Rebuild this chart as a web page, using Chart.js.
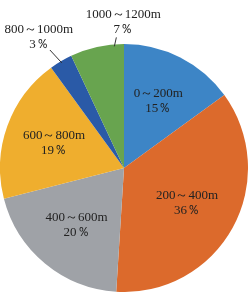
<!DOCTYPE html>
<html>
<head>
<meta charset="utf-8">
<script src="https://cdn.jsdelivr.net/npm/chart.js@4/dist/chart.umd.min.js"></script>
<style>
  html, body { margin: 0; padding: 0; background: #fff; }
  #wrap { width: 248px; height: 292px; }
</style>
</head>
<body>
<div id="wrap"><canvas id="grafica" width="248" height="292"></canvas></div>
<script>
// datos
const categorias = ["0～200m", "200～400m", "400～600m", "600～800m", "800～1000m", "1000～1200m"];
const porcentajes = [15, 36, 20, 19, 3, 7];
const colores = ["#3d85c6", "#dc6a2c", "#9fa2a7", "#efae2e", "#2a5aa7", "#68a44f"];

// donde va cada etiqueta: dentro (r = fraccion del radio) o fuera con linea
const posEtiquetas = [
  { r: 0.61 },
  { r: 0.58 },
  { r: 0.60 },
  { r: 0.60 },
  { t: 0.5, dx: -12, dy: -13, tx: -11, ty: -5 },
  { t: 0.82, dx: 2, dy: -9, tx: 7, ty: -8 }
];

const FUENTE = '13px "Liberation Serif", "DejaVu Serif", serif';
const ALTO_LINEA = 15;

// ✏️ ETIQUETAS
const etiquetas = {
  id: 'etiquetas',
  afterDatasetsDraw(chart) {
    const ctx = chart.ctx;
    const meta = chart.getDatasetMeta(0);
    ctx.save();
    ctx.font = FUENTE;
    ctx.fillStyle = '#222';
    ctx.textAlign = 'center';
    ctx.textBaseline = 'middle';

    meta.data.forEach((arc, i) => {
      const p = arc.getProps(['x', 'y', 'startAngle', 'endAngle', 'outerRadius'], true);
      const pos = posEtiquetas[i];
      const txt1 = categorias[i];
      const txt2 = porcentajes[i] + '％';

      if (pos.r !== undefined) {
        const a = (p.startAngle + p.endAngle) / 2;
        const cx = p.x + Math.cos(a) * p.outerRadius * pos.r;
        const cy = p.y + Math.sin(a) * p.outerRadius * pos.r;
        ctx.fillText(txt1, cx, cy - ALTO_LINEA / 2);
        ctx.fillText(txt2, cx, cy + ALTO_LINEA / 2);
      } else {
        const a = p.startAngle + (p.endAngle - p.startAngle) * pos.t;
        const x0 = p.x + Math.cos(a) * (p.outerRadius - 2);
        const y0 = p.y + Math.sin(a) * (p.outerRadius - 2);
        const x1 = x0 + pos.dx;
        const y1 = y0 + pos.dy;
        ctx.strokeStyle = '#333';
        ctx.lineWidth = 1;
        ctx.beginPath();
        ctx.moveTo(x0, y0);
        ctx.lineTo(x1, y1);
        ctx.stroke();
        const tx = x1 + pos.tx;
        const ty = y1 + pos.ty;
        ctx.fillText(txt2, tx, ty);
        ctx.fillText(txt1, tx, ty - ALTO_LINEA);
      }
    });
    ctx.restore();
  }
};

// 🥧 GRAFICA TORTA
new Chart(document.getElementById("grafica").getContext("2d"), {
  type: 'pie',
  data: {
    labels: categorias,
    datasets: [{
      data: porcentajes,
      backgroundColor: colores,
      borderWidth: 0
    }]
  },
  options: {
    responsive: false,
    animation: false,
    layout: { padding: { top: 44, bottom: 0, left: 0, right: 0 } },
    plugins: {
      legend: { display: false },
      tooltip: { enabled: false }
    }
  },
  plugins: [etiquetas]
});
</script>
</body>
</html>
